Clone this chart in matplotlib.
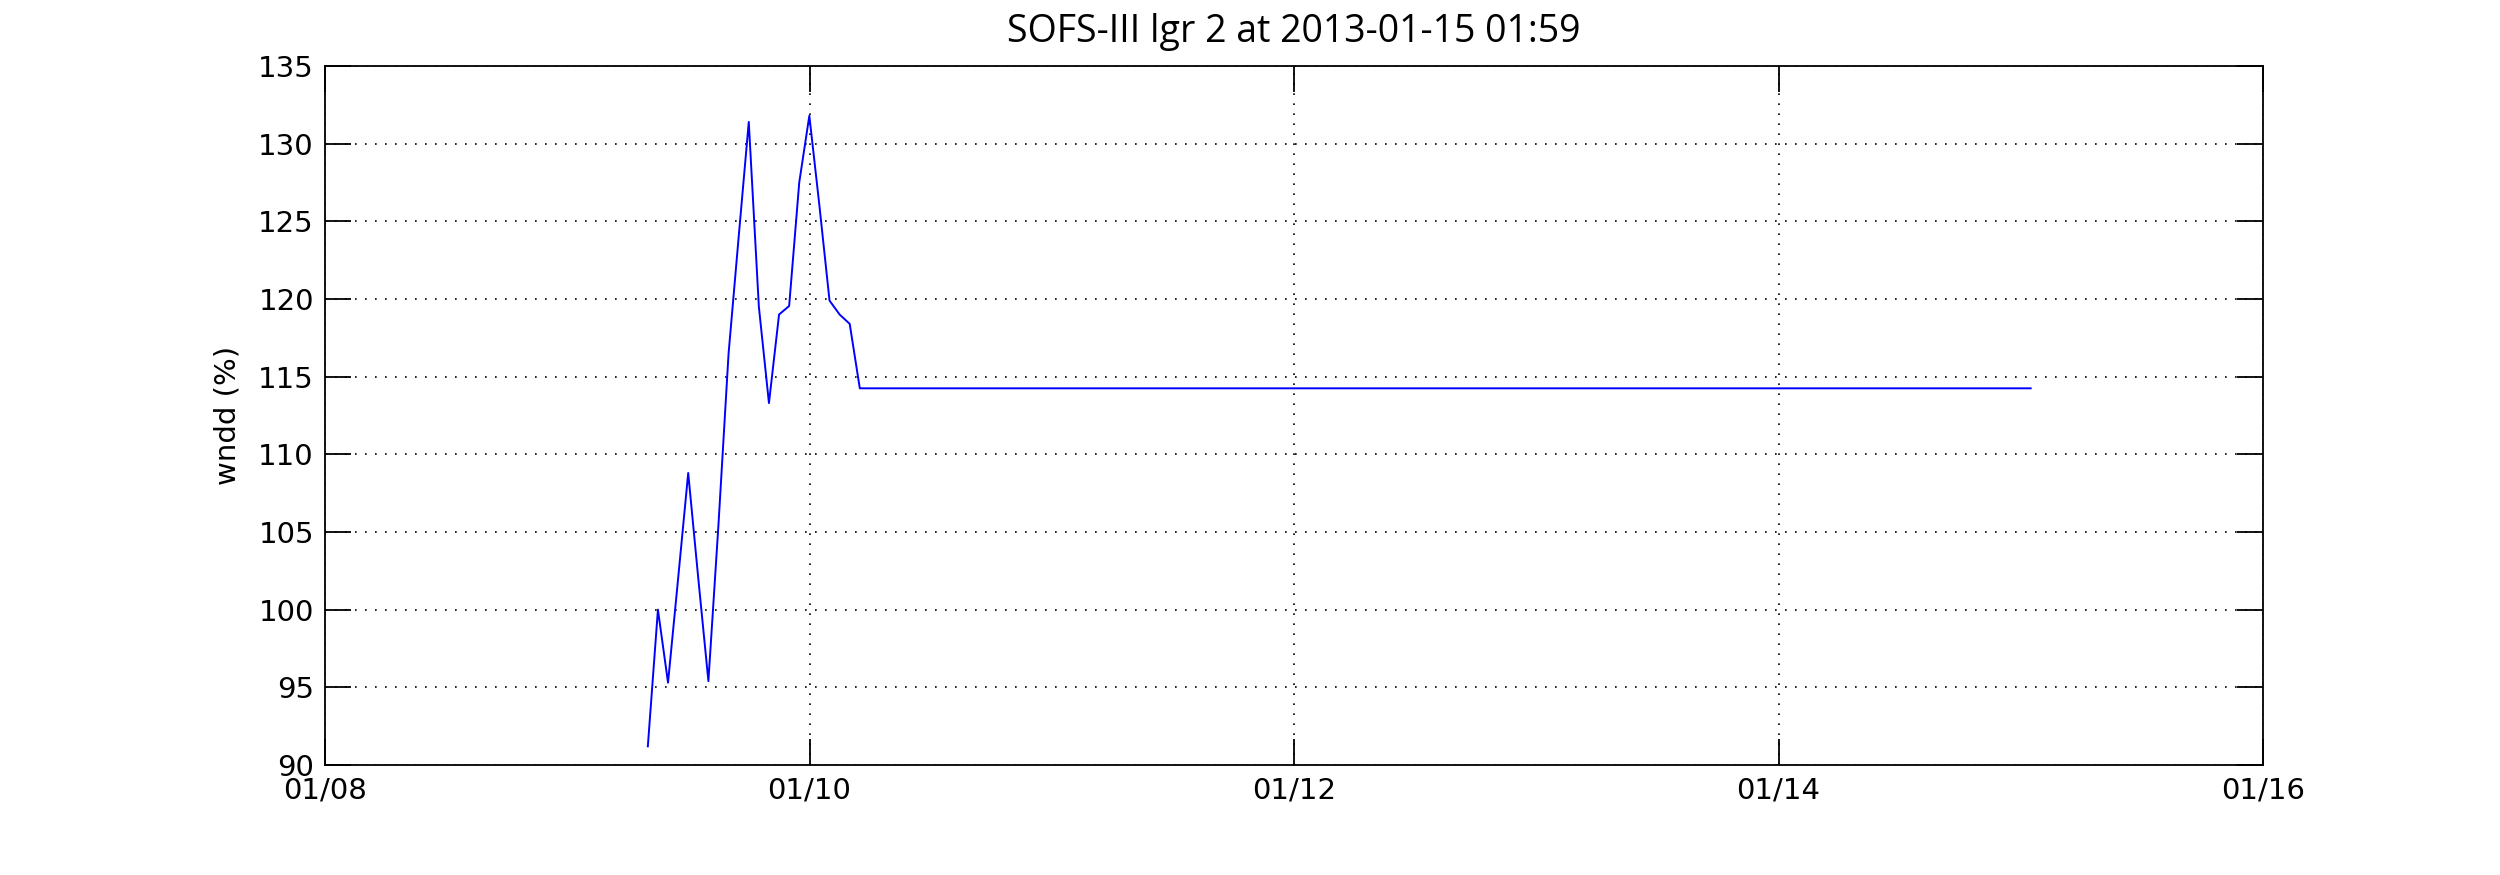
import matplotlib
matplotlib.use("Agg")
import matplotlib.pyplot as plt
import matplotlib.dates as mdates
import numpy as np
from datetime import datetime

# ---- data ----
times = [
    "2013-01-09 07:59", "2013-01-09 08:59", "2013-01-09 09:59", "2013-01-09 10:59",
    "2013-01-09 11:59", "2013-01-09 12:59", "2013-01-09 13:59", "2013-01-09 14:59",
    "2013-01-09 15:59", "2013-01-09 16:59", "2013-01-09 17:59", "2013-01-09 18:59",
    "2013-01-09 19:59", "2013-01-09 20:59", "2013-01-09 21:59", "2013-01-09 22:59",
    "2013-01-09 23:59", "2013-01-10 00:59", "2013-01-10 01:59", "2013-01-10 02:59",
    "2013-01-10 03:59", "2013-01-10 04:59", "2013-01-15 00:59",
]
wndd = [
    91.2, 100.0, 95.3, 102.0,
    108.8, 102.0, 95.4, 105.5,
    116.5, 124.0, 131.4, 119.5,
    113.3, 119.0, 119.55, 127.5,
    131.8, 126.0, 119.9, 119.0,
    118.4, 114.25, 114.25,
]
xtick_labels = ["01/08", "01/10", "01/12", "01/14", "01/16"]
xtick_dates = ["2013-01-08", "2013-01-10", "2013-01-12", "2013-01-14", "2013-01-16"]
yticks = [90, 95, 100, 105, 110, 115, 120, 125, 130, 135]
title = "SOFS-III lgr 2 at 2013-01-15 01:59"
ylabel = "wndd (%)"

t = [datetime.strptime(s, "%Y-%m-%d %H:%M") for s in times]
xt = [datetime.strptime(s, "%Y-%m-%d") for s in xtick_dates]

fig = plt.figure(figsize=(25, 8.75), dpi=100)
ax = fig.add_axes([325 / 2500, 1 - 765 / 875, (2263 - 325) / 2500, (765 - 66) / 875])

ax.plot(t, wndd, color="#0000ff", linewidth=1.4)

ax.set_xlim(xt[0], xt[-1])
ax.set_ylim(90, 135)
ax.set_xticks(xt)
ax.set_xticklabels(xtick_labels)
ax.set_yticks(yticks)

ax.grid(True, color="black", linestyle=(0, (1, 5)), linewidth=1.2)
ax.tick_params(direction="in", length=19, width=1.3, labelsize=21,
               top=True, right=True, pad=8)
for s in ax.spines.values():
    s.set_linewidth(1.3)

ax.set_ylabel(ylabel, fontsize=21, labelpad=12)
ax.set_title(title, fontsize=27, pad=17, family=["Open Sans", "DejaVu Sans"])

fig.savefig("out.png", dpi=100, facecolor="white")
